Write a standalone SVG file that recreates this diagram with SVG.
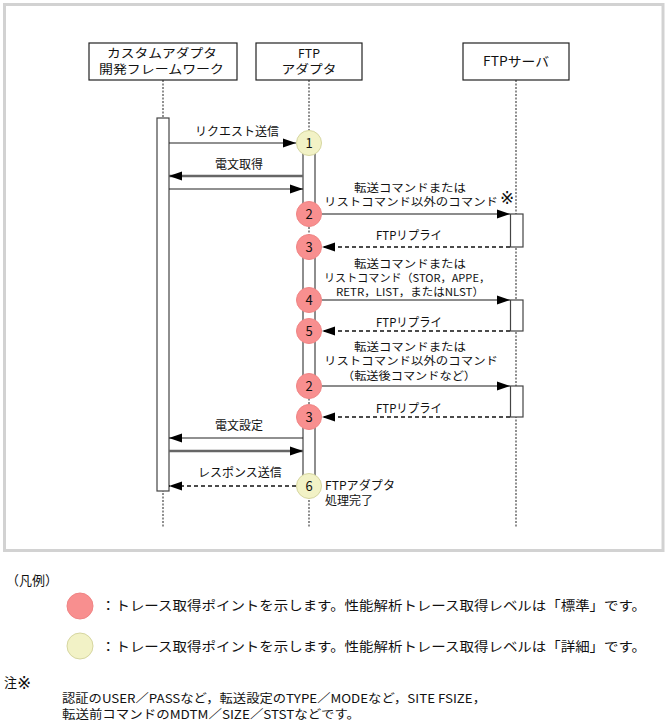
<svg xmlns="http://www.w3.org/2000/svg" width="669" height="727" viewBox="0 0 669 727">
<style>
text{font-family:"Noto Sans CJK JP","Noto Sans",sans-serif;fill:#111}
.t12{font-size:12px}
.t11{font-size:11px}
.t13{font-size:13px}
.bx{font-size:12px}
.ref{font-family:"DejaVu Sans","Noto Sans CJK JP",sans-serif;font-size:17px}
.box{fill:#fff;stroke:#222;stroke-width:1.2}
.life{stroke:#555;stroke-width:1.3;stroke-dasharray:2 1.5;fill:none}
.bar{fill:#fff;stroke:#444;stroke-width:1.2}
.pk{fill:#f88f8f;stroke:#f08484;stroke-width:1}
.yl{fill:#f2f2c6;stroke:#d6d6a0;stroke-width:1}
.sol{stroke:#666;stroke-width:1.6;fill:none}
.thk{stroke:#666;stroke-width:2.6;fill:none}
.thn{stroke:#222;stroke-width:1.2;fill:none}
.dsh{stroke:#111;stroke-width:1.3;stroke-dasharray:4 3;fill:none}
.num{font-size:13px;text-anchor:middle}
</style>
<defs>
<marker id="ah" markerUnits="userSpaceOnUse" markerWidth="13" markerHeight="10" refX="13" refY="5" orient="auto">
<path d="M0,0.5 L13,5 L0,9.5 z" fill="#000"/>
</marker>
</defs>
<rect x="4.5" y="4.5" width="658.5" height="546" fill="#fff" stroke="#d2d2d2" stroke-width="3"/>

<g id="lifelines">
<line class="life" x1="163" y1="80" x2="163" y2="527"/>
<line class="life" x1="309" y1="80" x2="309" y2="527"/>
<line class="life" x1="516" y1="80" x2="516" y2="527"/>
</g>

<g id="node-framework">
<rect class="box" x="89" y="43" width="148" height="37"/>
<text class="bx" x="107" y="58" textLength="110" lengthAdjust="spacingAndGlyphs">カスタムアダプタ</text>
<text class="bx" x="99" y="74" textLength="125" lengthAdjust="spacingAndGlyphs">開発フレームワーク</text>
<rect class="bar" x="157" y="118" width="12" height="373"/>
</g>

<g id="node-ftpadapter">
<rect class="box" x="256" y="43" width="106" height="37"/>
<text class="bx" x="309" y="58" text-anchor="middle" textLength="22" lengthAdjust="spacingAndGlyphs">FTP</text>
<text class="bx" x="309" y="74" text-anchor="middle" textLength="55" lengthAdjust="spacingAndGlyphs">アダプタ</text>
<rect class="bar" x="303" y="143" width="12" height="71"/>
<rect class="bar" x="303" y="247" width="12" height="139"/>
<rect class="bar" x="303" y="417" width="12" height="68"/>
</g>

<g id="node-ftpserver">
<rect class="box" x="463" y="43" width="106" height="37"/>
<text class="t13" x="483" y="66" textLength="66" lengthAdjust="spacingAndGlyphs">FTPサーバ</text>
<rect class="bar" x="510.5" y="214" width="12.5" height="33"/>
<rect class="bar" x="510.5" y="300" width="12.5" height="31"/>
<rect class="bar" x="510.5" y="386" width="12.5" height="31"/>
</g>

<g id="connectors">
<line class="thn" x1="169" y1="143" x2="296" y2="143" marker-end="url(#ah)"/>
<text class="t12" x="237" y="135.5" text-anchor="middle">リクエスト送信</text>

<line class="thk" x1="303" y1="176" x2="169" y2="176" marker-end="url(#ah)"/>
<text class="t12" x="239" y="169" text-anchor="middle">電文取得</text>
<line class="thn" x1="169" y1="189" x2="303" y2="189" marker-end="url(#ah)"/>

<line class="sol" x1="322" y1="214" x2="510" y2="214" marker-end="url(#ah)"/>
<text class="t11" x="354" y="191.5" textLength="112" lengthAdjust="spacingAndGlyphs">転送コマンドまたは</text>
<text class="t11" x="324" y="206" textLength="174" lengthAdjust="spacingAndGlyphs">リストコマンド以外のコマンド</text>
<text class="ref" x="500" y="204">※</text>

<line class="dsh" x1="510" y1="247" x2="322" y2="247" marker-end="url(#ah)"/>
<text class="t12" x="376" y="239.5" textLength="66" lengthAdjust="spacingAndGlyphs">FTPリプライ</text>

<line class="sol" x1="322" y1="300" x2="510" y2="300" marker-end="url(#ah)"/>
<text class="t11" x="354" y="267.5" textLength="112" lengthAdjust="spacingAndGlyphs">転送コマンドまたは</text>
<text class="t11" x="324" y="281.5" textLength="166" lengthAdjust="spacingAndGlyphs">リストコマンド（STOR，APPE，</text>
<text class="t11" x="336" y="295.5" textLength="148" lengthAdjust="spacingAndGlyphs">RETR，LIST，またはNLST）</text>

<line class="dsh" x1="510" y1="331" x2="322" y2="331" marker-end="url(#ah)"/>
<text class="t12" x="376" y="326.5" textLength="66" lengthAdjust="spacingAndGlyphs">FTPリプライ</text>

<line class="sol" x1="322" y1="386" x2="510" y2="386" marker-end="url(#ah)"/>
<text class="t11" x="354" y="350.5" textLength="112" lengthAdjust="spacingAndGlyphs">転送コマンドまたは</text>
<text class="t11" x="324" y="364.5" textLength="174" lengthAdjust="spacingAndGlyphs">リストコマンド以外のコマンド</text>
<text class="t11" x="342" y="379.5" textLength="134" lengthAdjust="spacingAndGlyphs">（転送後コマンドなど）</text>

<line class="dsh" x1="510" y1="417" x2="322" y2="417" marker-end="url(#ah)"/>
<text class="t12" x="376" y="412.5" textLength="66" lengthAdjust="spacingAndGlyphs">FTPリプライ</text>

<line class="thn" x1="303" y1="438" x2="169" y2="438" marker-end="url(#ah)"/>
<text class="t12" x="239" y="429.5" text-anchor="middle">電文設定</text>
<line class="thk" x1="169" y1="451" x2="303" y2="451" marker-end="url(#ah)"/>

<line class="dsh" x1="296" y1="486" x2="169" y2="486" marker-end="url(#ah)"/>
<text class="t12" x="240" y="476.5" text-anchor="middle">レスポンス送信</text>
</g>

<g id="trace-points">
<circle class="yl" cx="309" cy="143" r="12.5"/><text class="num" x="309" y="147.5">1</text>
<circle class="pk" cx="309" cy="214" r="12.5"/><text class="num" x="309" y="218.5">2</text>
<circle class="pk" cx="309" cy="247" r="12.5"/><text class="num" x="309" y="251.5">3</text>
<circle class="pk" cx="309" cy="300" r="12.5"/><text class="num" x="309" y="304.5">4</text>
<circle class="pk" cx="309" cy="331" r="12.5"/><text class="num" x="309" y="335.5">5</text>
<circle class="pk" cx="309" cy="386" r="12.5"/><text class="num" x="309" y="390.5">2</text>
<circle class="pk" cx="309" cy="417" r="12.5"/><text class="num" x="309" y="421.5">3</text>
<circle class="yl" cx="309" cy="486" r="12.5"/><text class="num" x="309" y="490.5">6</text>
<text class="t12" x="325" y="489.5" textLength="70" lengthAdjust="spacingAndGlyphs">FTPアダプタ</text>
<text class="t12" x="325" y="504.5">処理完了</text>
</g>

<g id="legend">
<text class="t13" x="6" y="585" textLength="52" lengthAdjust="spacingAndGlyphs">（凡例）</text>
<ellipse class="pk" cx="80" cy="606" rx="13" ry="13"/>
<text class="t13" x="101" y="610" textLength="545" lengthAdjust="spacingAndGlyphs">：トレース取得ポイントを示します。性能解析トレース取得レベルは「標準」です。</text>
<ellipse class="yl" cx="80" cy="646" rx="13" ry="13"/>
<text class="t13" x="101" y="651" textLength="545" lengthAdjust="spacingAndGlyphs">：トレース取得ポイントを示します。性能解析トレース取得レベルは「詳細」です。</text>
<text x="4" y="687" style="font-size:13px">注<tspan class="ref" dy="2">※</tspan></text>
<text class="t12" x="62" y="703" textLength="424" lengthAdjust="spacingAndGlyphs">認証のUSER／PASSなど，転送設定のTYPE／MODEなど，SITE FSIZE，</text>
<text class="t12" x="62" y="719" textLength="298" lengthAdjust="spacingAndGlyphs">転送前コマンドのMDTM／SIZE／STSTなどです。</text>
</g>
</svg>
